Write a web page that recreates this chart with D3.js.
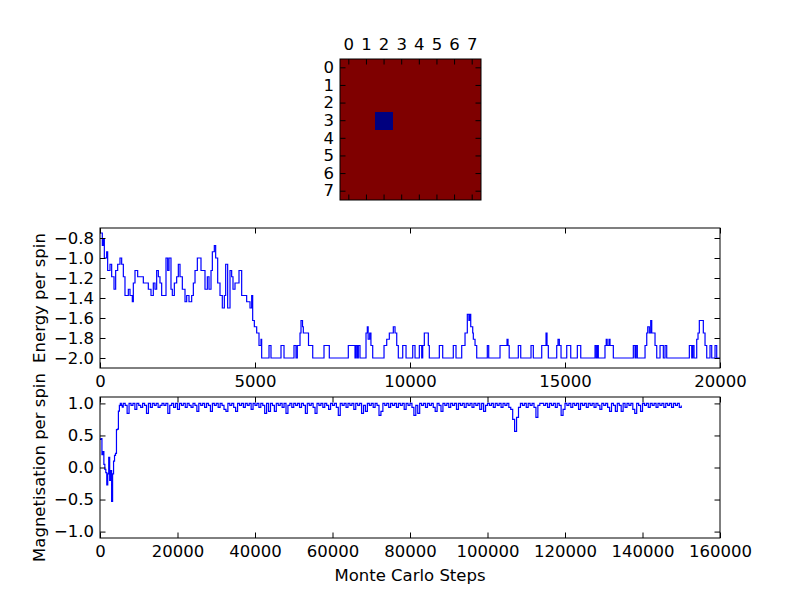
<!DOCTYPE html>
<html>
<head>
<meta charset="utf-8">
<script src="https://cdn.jsdelivr.net/npm/d3@7"></script>
<style>
  body { margin: 0; background: #fff; }
  text { font-family: "DejaVu Sans", sans-serif; }
</style>
</head>
<body>
<svg id="chart" width="800" height="597"></svg>
<script>
// spin lattice (+1 / -1), row by row
const lattice = [
  [1, 1, 1, 1, 1, 1, 1, 1],
  [1, 1, 1, 1, 1, 1, 1, 1],
  [1, 1, 1, 1, 1, 1, 1, 1],
  [1, 1, -1, 1, 1, 1, 1, 1],
  [1, 1, 1, 1, 1, 1, 1, 1],
  [1, 1, 1, 1, 1, 1, 1, 1],
  [1, 1, 1, 1, 1, 1, 1, 1],
  [1, 1, 1, 1, 1, 1, 1, 1]
];
const latticeTicks = [0, 1, 2, 3, 4, 5, 6, 7];

// energy per spin (step, value)
const energySteps = [
  0, 75, 110, 140, 215, 247, 323, 376, 452, 505, 570, 645, 699, 753, 806, 914, 968,
  1043, 1075, 1129, 1215, 1290, 1398, 1505, 1559, 1645, 1720, 1774, 1828, 1882, 1935,
  1989, 2129, 2183, 2226, 2290, 2333, 2398, 2473, 2527, 2581, 2656, 2742, 2796, 2871,
  2957, 3011, 3065, 3140, 3194, 3258, 3301, 3387, 3463, 3516, 3581, 3624, 3688, 3731,
  3796, 3871, 3946, 4011, 4054, 4118, 4194, 4247, 4290, 4355, 4441, 4484, 4527, 4570,
  4677, 4731, 4807, 4839, 4893, 4925, 4979, 5054, 5129, 5194, 5215,
  5452, 5516, 5839, 5936, 6258, 6323, 6365, 6452, 6484, 6533, 6559, 6726, 6862,
  7226, 7397, 8010, 8226, 8258, 8300, 8333, 8387, 8581, 8623, 8650, 8700, 8740, 8797,
  9162, 9249, 9333, 9462, 9517, 9572, 9623, 9765, 9872, 10088, 10162, 10301, 10378,
  10410, 10462, 10591, 10623, 10946, 11055, 11397, 11484, 11668, 11775, 11849, 11900,
  11936, 11959, 12023, 12043, 12098, 12152, 12494, 12539, 12904, 13130, 13162, 13200,
  13494, 13572, 13904, 13978, 14249, 14388, 14420, 14462, 14733, 14775, 14817, 14872,
  15056, 15185, 15398, 15508, 15969, 16010, 16050, 16075, 16290, 16330, 16360, 16420,
  16452, 16559, 17204, 17259, 17291, 17333, 17582, 17637, 17669, 17720, 17765, 17798,
  17904, 17959, 18066, 18172, 18227, 18281, 19011, 19088, 19120, 19162, 19249, 19291,
  19333, 19462, 19517, 19572, 19678, 19733, 19840, 19894, 20000
];
const energyValues = [
  -0.75, -0.875, -0.8125, -1.0, -0.9375, -1.125, -1.0625, -1.1875, -1.3125, -1.125, -1.0625, -1.0, -1.0625, -1.1875, -1.375, -1.3125, -1.375,
  -1.4375, -1.25, -1.125, -1.1875, -1.1875, -1.25, -1.25, -1.3125, -1.375, -1.25, -1.3125, -1.125, -1.1875, -1.25,
  -1.375, -1.0, -1.125, -1.0, -1.3125, -1.375, -1.25, -1.1875, -1.0625, -1.1875, -1.3125, -1.4375, -1.375, -1.4375,
  -1.375, -1.25, -1.125, -1.0, -1.0, -1.125, -1.125, -1.3125, -1.1875, -1.3125, -1.125, -0.9375, -0.875, -1.0,
  -1.25, -1.375, -1.5, -1.375, -1.0625, -1.5, -1.125, -1.1875, -1.3125, -1.25, -1.25, -1.125, -1.125, -1.375,
  -1.375, -1.4375, -1.4375, -1.5, -1.375, -1.625, -1.6875, -1.75, -1.875, -1.8125, -2.0,
  -1.875, -2.0, -1.875, -2.0, -1.875, -2.0, -1.875, -1.75, -1.625, -1.6875, -1.75, -1.875, -2.0,
  -1.875, -2.0, -1.875, -2.0, -1.875, -2.0, -1.875, -2.0, -1.75, -1.6875, -1.8125, -1.75, -1.875, -2.0,
  -1.875, -1.8125, -1.75, -1.6875, -1.75, -1.875, -2.0, -1.875, -2.0, -1.875, -2.0, -1.875, -2.0,
  -1.875, -1.75, -1.875, -2.0, -1.875, -2.0, -1.875, -2.0, -1.875, -1.75, -1.5625, -1.625,
  -1.5625, -1.6875, -1.75, -1.8125, -1.875, -2.0, -1.875, -2.0, -1.875, -1.8125, -1.875, -2.0,
  -1.875, -2.0, -1.875, -2.0, -1.875, -1.75, -1.875, -2.0, -1.875, -1.8125, -1.875, -2.0,
  -1.875, -2.0, -1.875, -2.0, -1.875, -2.0, -1.875, -2.0, -1.875, -1.8125, -1.875, -1.8125,
  -1.875, -2.0, -1.875, -2.0, -1.875, -2.0, -1.875, -1.75, -1.6875, -1.75, -1.625, -1.75,
  -1.875, -2.0, -1.875, -2.0, -1.875, -2.0, -1.875, -2.0, -1.875, -2.0, -1.8125, -1.75,
  -1.625, -1.75, -1.875, -2.0, -1.875, -2.0, -1.875, -2.0, -2.0
];

// magnetisation per spin: equilibration part (step, value)
const magEarlySteps = [0, 250, 500, 750, 1000, 1250, 1500, 1750, 2000, 2250, 2500, 2750,
  3000, 3250, 3500, 3750, 4000, 4250, 4500, 4750, 5000, 5250, 5500, 5750];
const magEarlyValues = [0.44, 0.45, 0.2, 0.25, 0.05, -0.03, -0.08, -0.27, -0.1, 0.16, -0.2, -0.05,
  -0.53, -0.1, 0.1, 0.19, 0.22, 0.59, 0.6, 0.88, 0.97, 1.0, 0.97, 0.94];
// magnetisation after equilibration, sampled every 500 steps from 6000 to 150000
const magLateStart = 6000;
const magLateEvery = 500;
const magLateValues = [
  1, 0.969, 0.844, 1, 0.969, 1, 0.906, 1, 0.969, 0.938, 1, 0.969, 0.844, 1, 0.938, 1, 0.969, 1, 0.938, 0.969,
  1, 0.969, 1, 0.844, 0.969, 1, 0.938, 1, 0.906, 1, 0.969, 1, 0.938, 1, 0.969, 0.938, 1, 0.969, 0.875, 1,
  0.969, 1, 0.938, 1, 0.969, 0.875, 1, 0.969, 1, 0.938, 1, 0.969, 0.906, 0.875, 1, 0.969, 1, 0.938, 0.875, 1,
  0.969, 1, 0.938, 1, 0.969, 1, 0.906, 1, 0.969, 1, 0.938, 1, 0.969, 0.844, 1, 0.875, 1, 0.969, 0.875, 1,
  0.969, 1, 0.938, 1, 0.844, 0.969, 1, 0.938, 1, 0.969, 1, 0.938, 1, 0.969, 0.844, 1, 0.969, 1, 0.938, 0.844,
  1, 0.969, 1, 0.938, 1, 0.969, 0.906, 1, 0.969, 1, 0.938, 0.813, 1, 0.969, 1, 0.938, 1, 0.969, 1, 0.906,
  1, 0.969, 1, 0.844, 0.969, 0.875, 1, 0.969, 1, 0.938, 1, 0.969, 0.813, 0.875, 1, 0.969, 1, 0.938, 1, 0.969,
  1, 0.938, 1, 0.969, 1, 0.906, 1, 0.969, 1, 0.938, 0.813, 0.969, 0.844, 1, 0.969, 1, 0.938, 1, 0.969, 1,
  0.938, 0.875, 1, 0.969, 0.875, 1, 0.969, 1, 0.938, 1, 0.969, 1, 0.906, 1, 0.969, 1, 0.938, 1, 0.969, 1,
  0.938, 1, 0.969, 1, 0.906, 1, 0.875, 0.969, 1, 0.969, 1, 0.938, 1, 0.969, 1, 0.938, 1, 0.969, 1, 0.938,
  0.906, 0.75, 0.563, 0.781, 0.938, 1, 0.969, 1, 0.938, 1, 0.969, 1, 0.938, 0.781, 0.969, 1, 1, 0.969, 1, 0.938,
  1, 0.969, 1, 0.938, 1, 0.969, 0.813, 0.906, 1, 0.969, 1, 0.938, 1, 0.969, 1, 0.906, 1, 0.969, 1, 0.938,
  1, 0.969, 1, 0.938, 1, 0.969, 0.906, 1, 0.969, 1, 0.938, 0.875, 1, 0.969, 0.875, 1, 0.969, 0.875, 1, 0.938,
  1, 0.969, 1, 0.906, 0.844, 1, 0.969, 0.875, 1, 0.969, 1, 0.938, 1, 0.969, 1, 0.938, 1, 0.969, 1, 0.938,
  1, 0.969, 1, 0.938, 1, 0.969, 1, 0.938, 0.969
];

const energyXTicks = [0, 5000, 10000, 15000, 20000];
const energyYTicks = [-2.0, -1.8, -1.6, -1.4, -1.2, -1.0, -0.8];
const magXTicks = [0, 20000, 40000, 60000, 80000, 100000, 120000, 140000, 160000];
const magYTicks = [-1.0, -0.5, 0.0, 0.5, 1.0];

const FONT = "16.5px";
const TICK = 5.5;

const svg = d3.select("#chart");
svg.append("rect").attr("width", 800).attr("height", 597).attr("fill", "#fff");

function styleAxis(g) {
  g.select(".domain").remove();
  g.selectAll(".tick line").attr("stroke", "#000").attr("stroke-width", 1);
  g.selectAll(".tick text").attr("fill", "#000").style("font-size", FONT)
    .style("font-family", '"DejaVu Sans", sans-serif');
}

// ---- top: spin lattice ----
const hm = { x: 340, y: 59, size: 141 };
const hx = d3.scaleBand().domain(latticeTicks).range([hm.x, hm.x + hm.size]);
const hy = d3.scaleBand().domain(latticeTicks).range([hm.y, hm.y + hm.size]);
const spinColor = d3.scaleOrdinal().domain([-1, 1]).range(["#00007f", "#7f0000"]);

const cells = lattice.flatMap((row, r) => row.map((v, c) => ({ r, c, v })));
svg.append("g").selectAll("rect").data(cells).join("rect")
  .attr("x", d => hx(d.c))
  .attr("y", d => hy(d.r))
  .attr("width", hx.bandwidth())
  .attr("height", hy.bandwidth())
  .attr("fill", d => spinColor(d.v))
  .attr("shape-rendering", "crispEdges");

svg.append("g").attr("transform", `translate(0,${hm.y})`)
  .call(d3.axisTop(hx).tickSize(-TICK).tickPadding(9.5)).call(styleAxis);
svg.append("g").attr("transform", `translate(0,${hm.y + hm.size})`)
  .call(d3.axisBottom(hx).tickSize(-TICK).tickFormat("")).call(styleAxis);
svg.append("g").attr("transform", `translate(${hm.x},0)`)
  .call(d3.axisLeft(hy).tickSize(-TICK).tickPadding(6)).call(styleAxis);
svg.append("g").attr("transform", `translate(${hm.x + hm.size},0)`)
  .call(d3.axisRight(hy).tickSize(-TICK).tickFormat("")).call(styleAxis);
svg.append("rect").attr("x", hm.x).attr("y", hm.y).attr("width", hm.size).attr("height", hm.size)
  .attr("fill", "none").attr("stroke", "#000").attr("stroke-width", 1);

// ---- line panels ----
function drawPanel(opt, data, curve) {
  const x = d3.scaleLinear().domain(opt.xDomain).range([opt.left, opt.right]);
  const y = d3.scaleLinear().domain(opt.yDomain).range([opt.bottom, opt.top]);
  const id = "clip" + opt.name;
  svg.append("clipPath").attr("id", id).append("rect")
    .attr("x", opt.left).attr("y", opt.top)
    .attr("width", opt.right - opt.left).attr("height", opt.bottom - opt.top);

  svg.append("path").datum(data)
    .attr("clip-path", `url(#${id})`)
    .attr("fill", "none").attr("stroke", "#0000ff").attr("stroke-width", 1.2)
    .attr("stroke-linejoin", "miter")
    .attr("d", d3.line().x(d => x(d[0])).y(d => y(d[1])).curve(curve));

  svg.append("g").attr("transform", `translate(0,${opt.bottom})`)
    .call(d3.axisBottom(x).tickValues(opt.xTicks).tickFormat(d3.format("d"))
      .tickSize(-TICK).tickSizeOuter(0).tickPadding(7)).call(styleAxis);
  svg.append("g").attr("transform", `translate(0,${opt.top})`)
    .call(d3.axisTop(x).tickValues(opt.xTicks).tickFormat("")
      .tickSize(-TICK).tickSizeOuter(0)).call(styleAxis);
  svg.append("g").attr("transform", `translate(${opt.left},0)`)
    .call(d3.axisLeft(y).tickValues(opt.yTicks).tickFormat(d3.format(".1f"))
      .tickSize(-TICK).tickSizeOuter(0).tickPadding(6)).call(styleAxis);
  svg.append("g").attr("transform", `translate(${opt.right},0)`)
    .call(d3.axisRight(y).tickValues(opt.yTicks).tickFormat("")
      .tickSize(-TICK).tickSizeOuter(0)).call(styleAxis);

  svg.append("rect").attr("x", opt.left).attr("y", opt.top)
    .attr("width", opt.right - opt.left).attr("height", opt.bottom - opt.top)
    .attr("fill", "none").attr("stroke", "#000").attr("stroke-width", 1);

  svg.append("text")
    .attr("transform", `translate(45,${(opt.top + opt.bottom) / 2}) rotate(-90)`)
    .attr("text-anchor", "middle").style("font-size", FONT)
    .text(opt.ylabel);
}

const energyData = energySteps.map((s, i) => [s, energyValues[i]]);
drawPanel({
  name: "energy", left: 100, right: 720, top: 228, bottom: 368,
  xDomain: [0, 20000], yDomain: [-2.1, -0.7],
  xTicks: energyXTicks, yTicks: energyYTicks, ylabel: "Energy per spin"
}, energyData, d3.curveStepAfter);

const magData = magEarlySteps.map((s, i) => [s, magEarlyValues[i]])
  .concat(magLateValues.map((v, i) => [magLateStart + i * magLateEvery, v]));
drawPanel({
  name: "mag", left: 100, right: 720, top: 397, bottom: 538,
  xDomain: [0, 160000], yDomain: [-1.1, 1.1],
  xTicks: magXTicks, yTicks: magYTicks, ylabel: "Magnetisation per spin"
}, magData, d3.curveStepAfter);

svg.append("text").attr("x", 410).attr("y", 581)
  .attr("text-anchor", "middle").style("font-size", FONT)
  .text("Monte Carlo Steps");
</script>
</body>
</html>
